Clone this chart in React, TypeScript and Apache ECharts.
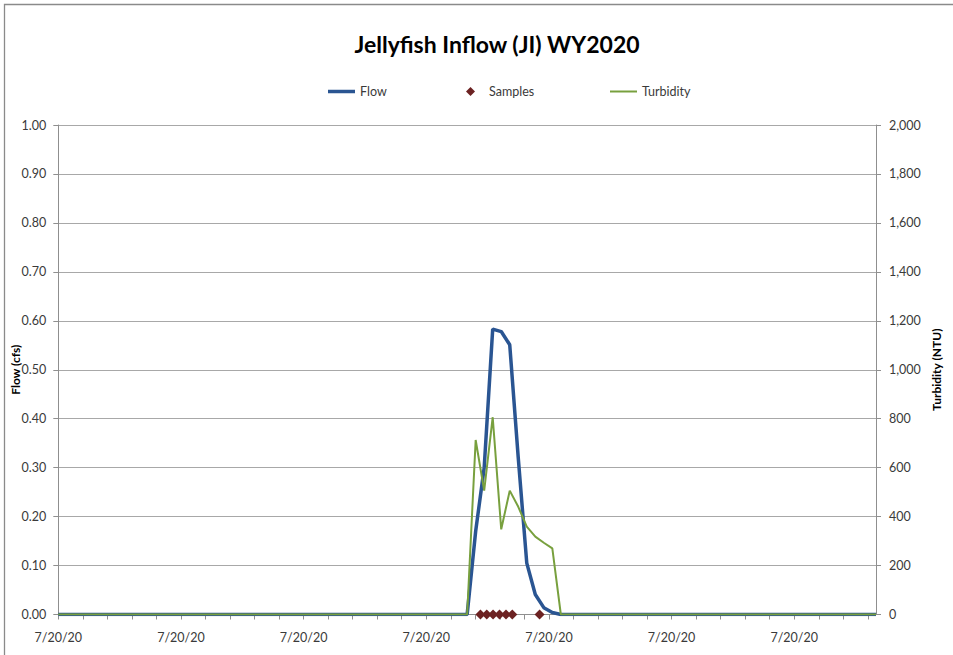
import React, { useEffect, useRef } from "react";
import * as echarts from "echarts";

// Time of day in hours (15-minute records) on 7/20/20
const flowHours = [0, 12, 12.25, 12.5, 12.75, 13, 13.25, 13.5, 13.75, 14, 14.25, 14.5, 14.75, 24];
const flowCfs = [0, 0, 0.17, 0.3, 0.583, 0.578, 0.551, 0.32, 0.105, 0.041, 0.014, 0.004, 0, 0];
const turbidityNtu = [0, 0, 713, 506, 806, 348, 506, 440, 359, 318, 293, 270, 0, 0];

// Sample collection times (hours) and plotted value
const sampleHours = [12.39, 12.575, 12.76, 12.95, 13.14, 13.325, 14.125];
const sampleValues = [0, 0, 0, 0, 0, 0, 0];

const dateLabel = "7/20/20";
const titleText = "Jellyfish Inflow (JI) WY2020";

const FONT = "Lato, 'Open Sans', sans-serif";
const TEXT = "#3a3a3a";
const AXIS = "#8f8f8f";
const GRID = "#a8a8a8";
const BLUE = "#2a5592";
const GREEN = "#78a03e";
const RED = "#6c2222";

export default function App() {
  const ref = useRef<HTMLDivElement>(null);
  useEffect(() => {
    if (!ref.current) return;
    const chart = echarts.init(ref.current, undefined, { renderer: "svg" });
    const flowData = flowHours.map((h, i) => [h, flowCfs[i]]);
    const turbData = flowHours.map((h, i) => [h, turbidityNtu[i]]);
    const sampleData = sampleHours.map((h, i) => [h, sampleValues[i]]);
    const legendText = { color: TEXT, fontFamily: FONT, fontSize: 12.5 };
    chart.setOption({
      animation: false,
      backgroundColor: "#ffffff",
      textStyle: { fontFamily: FONT },
      title: {
        text: titleText,
        left: 497,
        textAlign: "center",
        top: 32,
        padding: 0,
        textStyle: { fontFamily: FONT, fontSize: 23, fontWeight: "bold", color: "#000" },
      },
      graphic: [
        {
          type: "rect",
          shape: { x: 4.5, y: 4.5, width: 980, height: 700 },
          style: { fill: "none", stroke: "#8a8a8a", lineWidth: 1.3 },
          silent: true,
        },
      ],
      legend: [
        {
          data: [{ name: "Flow", icon: "rect" }],
          left: 328,
          top: 85,
          padding: 0,
          itemWidth: 27,
          itemHeight: 3.5,
          textStyle: legendText,
        },
        {
          data: [{ name: "Samples", icon: "diamond" }],
          left: 466,
          top: 85,
          padding: 0,
          itemWidth: 9,
          itemHeight: 9,
          textStyle: { ...legendText, padding: [0, 0, 0, 9] },
        },
        {
          data: [{ name: "Turbidity", icon: "rect" }],
          left: 610,
          top: 85,
          padding: 0,
          itemWidth: 27,
          itemHeight: 2,
          textStyle: legendText,
        },
      ],
      grid: {
        left: 58.3,
        right: 77,
        top: 125,
        bottom: 40.5,
        containLabel: false,
        outerBoundsMode: "none",
      },
      xAxis: {
        type: "value",
        min: 0,
        max: 24,
        interval: 0.72,
        axisLine: { show: true, lineStyle: { color: AXIS, width: 1 } },
        axisTick: { show: true, inside: false, length: 5, lineStyle: { color: AXIS } },
        splitLine: { show: false },
        axisLabel: {
          color: TEXT,
          fontFamily: FONT,
          fontSize: 12.5,
          margin: 16,
          showMaxLabel: false,
          formatter: (_v: number, idx: number) => (idx % 5 === 0 ? dateLabel : ""),
        },
      },
      yAxis: [
        {
          type: "value",
          min: 0,
          max: 1,
          interval: 0.1,
          name: "Flow (cfs)",
          nameLocation: "middle",
          nameGap: 37,
          nameMoveOverlap: false,
          nameTextStyle: { fontFamily: FONT, fontSize: 12, fontWeight: "bold", color: "#000" },
          axisLine: { show: true, lineStyle: { color: AXIS } },
          axisTick: { show: true, length: 5, lineStyle: { color: AXIS } },
          splitLine: { show: true, lineStyle: { color: GRID, width: 1 } },
          axisLabel: {
            color: TEXT,
            fontFamily: FONT,
            fontSize: 12.5,
            margin: 12,
            formatter: (v: number) => v.toFixed(2),
          },
        },
        {
          type: "value",
          min: 0,
          max: 2000,
          interval: 200,
          position: "right",
          name: "Turbidity (NTU)",
          nameLocation: "middle",
          nameGap: 54,
          nameMoveOverlap: false,
          nameTextStyle: { fontFamily: FONT, fontSize: 12, fontWeight: "bold", color: "#000" },
          axisLine: { show: true, lineStyle: { color: AXIS } },
          axisTick: { show: true, length: 5, lineStyle: { color: AXIS } },
          splitLine: { show: false },
          axisLabel: {
            color: TEXT,
            fontFamily: FONT,
            fontSize: 12.5,
            margin: 13,
            formatter: (v: number) => v.toLocaleString("en-US"),
          },
        },
      ],
      series: [
        {
          name: "Flow",
          type: "line",
          data: flowData,
          yAxisIndex: 0,
          symbol: "none",
          lineStyle: { color: BLUE, width: 3.5 },
          itemStyle: { color: BLUE },
          z: 2,
        },
        {
          name: "Samples",
          type: "scatter",
          data: sampleData,
          yAxisIndex: 0,
          symbol: "diamond",
          symbolSize: 10,
          itemStyle: { color: RED, opacity: 1 },
          z: 5,
        },
        {
          name: "Turbidity",
          type: "line",
          data: turbData,
          yAxisIndex: 1,
          symbol: "none",
          lineStyle: { color: GREEN, width: 2 },
          itemStyle: { color: GREEN },
          z: 3,
        },
      ],
    });
    return () => chart.dispose();
  }, []);
  return (
    <div
      ref={ref}
      style={{ position: "absolute", left: 0, top: 0, width: 953, height: 655 }}
    />
  );
}
